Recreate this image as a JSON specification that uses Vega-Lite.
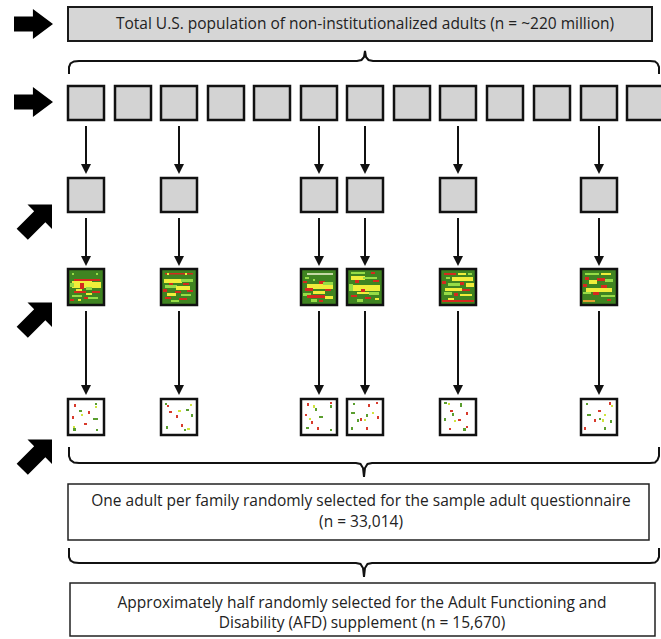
{
"$schema":"https://vega.github.io/schema/vega-lite/v6.json",
"width":661,"height":639,"autosize":"none","padding":0,
"config":{"view":{"stroke":null},"background":"white"},
"datasets":{
"boxes":[
{"g":"top","x":68,"x2":652,"y":7,"y2":41},
{"g":"gray","x":68,"x2":104,"y":86,"y2":120},{"g":"gray","x":115,"x2":151,"y":86,"y2":120},{"g":"gray","x":161,"x2":197,"y":86,"y2":120},{"g":"gray","x":208,"x2":244,"y":86,"y2":120},{"g":"gray","x":254,"x2":290,"y":86,"y2":120},{"g":"gray","x":301,"x2":337,"y":86,"y2":120},{"g":"gray","x":347,"x2":383,"y":86,"y2":120},{"g":"gray","x":394,"x2":430,"y":86,"y2":120},{"g":"gray","x":440,"x2":476,"y":86,"y2":120},{"g":"gray","x":487,"x2":523,"y":86,"y2":120},{"g":"gray","x":534,"x2":570,"y":86,"y2":120},{"g":"gray","x":581,"x2":617,"y":86,"y2":120},{"g":"gray","x":627,"x2":663,"y":86,"y2":120},
{"g":"gray","x":68,"x2":104,"y":178,"y2":212},{"g":"gray","x":161,"x2":197,"y":178,"y2":212},{"g":"gray","x":301,"x2":337,"y":178,"y2":212},{"g":"gray","x":347,"x2":383,"y":178,"y2":212},{"g":"gray","x":440,"x2":476,"y":178,"y2":212},{"g":"gray","x":581,"x2":617,"y":178,"y2":212},
{"g":"heat","x":68,"x2":104,"y":269,"y2":305},{"g":"heat","x":161,"x2":197,"y":269,"y2":305},{"g":"heat","x":301,"x2":337,"y":269,"y2":305},{"g":"heat","x":347,"x2":383,"y":269,"y2":305},{"g":"heat","x":440,"x2":476,"y":269,"y2":305},{"g":"heat","x":581,"x2":617,"y":269,"y2":305},
{"g":"white","x":68,"x2":104,"y":399,"y2":435},{"g":"white","x":161,"x2":197,"y":399,"y2":435},{"g":"white","x":301,"x2":337,"y":399,"y2":435},{"g":"white","x":347,"x2":383,"y":399,"y2":435},{"g":"white","x":440,"x2":476,"y":399,"y2":435},{"g":"white","x":581,"x2":617,"y":399,"y2":435},
{"g":"text","x":68,"x2":649,"y":484,"y2":540},{"g":"text","x":70,"x2":655,"y":583,"y2":636}
],
"cells":[
{"x":72,"x2":74,"y":273,"y2":275,"k":"G"},{"x":96,"x2":98,"y":273,"y2":275,"k":"G"},{"x":74,"x2":100,"y":279,"y2":281,"k":"R"},{"x":72,"x2":92,"y":281,"y2":288,"k":"Y"},{"x":92,"x2":101,"y":282,"y2":288,"k":"Y"},{"x":70,"x2":74,"y":283,"y2":287,"k":"G"},{"x":80,"x2":84,"y":283,"y2":289,"k":"R"},{"x":86,"x2":92,"y":287,"y2":290,"k":"G"},{"x":74,"x2":86,"y":291,"y2":293,"k":"R"},{"x":92,"x2":100,"y":291,"y2":293,"k":"R"},{"x":76,"x2":82,"y":289,"y2":291,"k":"Y"},{"x":86,"x2":92,"y":293,"y2":295,"k":"Y"},{"x":72,"x2":82,"y":295,"y2":297,"k":"G"},{"x":88,"x2":98,"y":297,"y2":299,"k":"G"},{"x":70,"x2":74,"y":299,"y2":301,"k":"R"},{"x":84,"x2":88,"y":297,"y2":299,"k":"R"},{"x":78,"x2":81,"y":299,"y2":301,"k":"Y"},
{"x":165,"x2":193,"y":273,"y2":274.5,"k":"R"},{"x":167,"x2":169,"y":273,"y2":275,"k":"Y"},{"x":185,"x2":187,"y":273,"y2":275,"k":"Y"},{"x":164,"x2":182,"y":279,"y2":283,"k":"Y"},{"x":181,"x2":193,"y":279,"y2":282,"k":"G"},{"x":169,"x2":173,"y":283,"y2":285,"k":"R"},{"x":183,"x2":189,"y":283,"y2":285,"k":"R"},{"x":165,"x2":177,"y":285,"y2":288,"k":"G"},{"x":176,"x2":190,"y":286,"y2":290,"k":"Y"},{"x":163,"x2":167,"y":289,"y2":292,"k":"R"},{"x":175,"x2":181,"y":291,"y2":293,"k":"R"},{"x":187,"x2":193,"y":290,"y2":292,"k":"R"},{"x":167,"x2":176,"y":293,"y2":296,"k":"Y"},{"x":181,"x2":191,"y":294,"y2":296,"k":"G"},{"x":165,"x2":171,"y":297,"y2":299,"k":"R"},{"x":179,"x2":187,"y":298,"y2":300,"k":"R"},{"x":171,"x2":179,"y":300,"y2":302,"k":"G"},
{"x":307,"x2":333,"y":273,"y2":275,"k":"L"},{"x":305,"x2":309,"y":277,"y2":279,"k":"G"},{"x":313,"x2":315,"y":279,"y2":281,"k":"G"},{"x":303,"x2":307,"y":281,"y2":283,"k":"R"},{"x":319,"x2":325,"y":281,"y2":284,"k":"R"},{"x":307,"x2":333,"y":284,"y2":289,"k":"Y"},{"x":323,"x2":333,"y":282,"y2":285,"k":"G"},{"x":305,"x2":313,"y":288,"y2":291,"k":"R"},{"x":325,"x2":331,"y":289,"y2":291,"k":"R"},{"x":313,"x2":325,"y":291,"y2":294,"k":"Y"},{"x":303,"x2":311,"y":293,"y2":296,"k":"G"},{"x":307,"x2":325,"y":295,"y2":298,"k":"R"},{"x":325,"x2":333,"y":296,"y2":299,"k":"Y"},{"x":311,"x2":317,"y":299,"y2":302,"k":"G"},{"x":319,"x2":323,"y":300,"y2":302,"k":"R"},
{"x":351,"x2":365,"y":272,"y2":274,"k":"G"},{"x":371,"x2":375,"y":272,"y2":274,"k":"R"},{"x":351,"x2":365,"y":276,"y2":280,"k":"Y"},{"x":363,"x2":377,"y":277,"y2":279,"k":"G"},{"x":355,"x2":359,"y":280,"y2":283,"k":"R"},{"x":373,"x2":379,"y":280,"y2":282,"k":"R"},{"x":352,"x2":380,"y":285,"y2":291,"k":"Y"},{"x":349,"x2":353,"y":284,"y2":291,"k":"G"},{"x":361,"x2":365,"y":289,"y2":292,"k":"R"},{"x":357,"x2":369,"y":292,"y2":294,"k":"Y"},{"x":369,"x2":379,"y":292,"y2":295,"k":"G"},{"x":351,"x2":357,"y":295,"y2":297,"k":"R"},{"x":365,"x2":371,"y":297,"y2":299,"k":"R"},{"x":357,"x2":363,"y":299,"y2":302,"k":"G"},{"x":375,"x2":379,"y":298,"y2":300,"k":"Y"},
{"x":444,"x2":456,"y":273,"y2":275,"k":"R"},{"x":458,"x2":466,"y":273,"y2":275,"k":"Y"},{"x":468,"x2":472,"y":273,"y2":275,"k":"G"},{"x":446,"x2":450,"y":277,"y2":279,"k":"G"},{"x":452,"x2":473,"y":277,"y2":281,"k":"Y"},{"x":442,"x2":446,"y":281,"y2":284,"k":"R"},{"x":460,"x2":464,"y":282,"y2":285,"k":"R"},{"x":448,"x2":460,"y":283,"y2":286,"k":"G"},{"x":466,"x2":474,"y":283,"y2":287,"k":"Y"},{"x":445,"x2":462,"y":288,"y2":291,"k":"Y"},{"x":462,"x2":470,"y":289,"y2":291,"k":"R"},{"x":444,"x2":452,"y":292,"y2":295,"k":"G"},{"x":454,"x2":458,"y":293,"y2":296,"k":"R"},{"x":460,"x2":472,"y":294,"y2":296,"k":"Y"},{"x":442,"x2":474,"y":300,"y2":302,"k":"R"},{"x":448,"x2":454,"y":298,"y2":300,"k":"Y"},
{"x":585,"x2":599,"y":273,"y2":275,"k":"G"},{"x":601,"x2":611,"y":273,"y2":275,"k":"Y"},{"x":585,"x2":589,"y":277,"y2":280,"k":"R"},{"x":597,"x2":605,"y":278,"y2":281,"k":"R"},{"x":589,"x2":597,"y":280,"y2":284,"k":"Y"},{"x":605,"x2":613,"y":279,"y2":282,"k":"G"},{"x":583,"x2":587,"y":284,"y2":287,"k":"R"},{"x":601,"x2":607,"y":285,"y2":288,"k":"R"},{"x":586,"x2":612,"y":288,"y2":292,"k":"Y"},{"x":583,"x2":591,"y":292,"y2":294,"k":"G"},{"x":593,"x2":599,"y":292,"y2":295,"k":"R"},{"x":601,"x2":615,"y":295,"y2":297,"k":"G"},{"x":583,"x2":595,"y":300,"y2":302,"k":"O"},{"x":607,"x2":611,"y":299,"y2":301,"k":"R"},
{"x":74,"x2":76,"y":404,"y2":407,"k":"r"},{"x":95,"x2":97,"y":403,"y2":405,"k":"g"},{"x":95,"x2":97,"y":406,"y2":408,"k":"y"},{"x":79,"x2":82,"y":410,"y2":412,"k":"g"},{"x":81,"x2":83,"y":414,"y2":416,"k":"y"},{"x":88,"x2":90,"y":411,"y2":414,"k":"r"},{"x":72,"x2":74,"y":416,"y2":419,"k":"r"},{"x":93,"x2":98,"y":418,"y2":420,"k":"g"},{"x":84,"x2":87,"y":423,"y2":425,"k":"r"},{"x":73,"x2":76,"y":428,"y2":431,"k":"g"},{"x":73,"x2":75,"y":426,"y2":428,"k":"y"},{"x":96,"x2":98,"y":429,"y2":431,"k":"g"},
{"x":165,"x2":167,"y":403,"y2":405,"k":"g"},{"x":167,"x2":169,"y":405,"y2":407,"k":"r"},{"x":190,"x2":192,"y":404,"y2":406,"k":"y"},{"x":169,"x2":172,"y":411,"y2":413,"k":"r"},{"x":178,"x2":181,"y":410,"y2":412,"k":"y"},{"x":186,"x2":189,"y":409,"y2":411,"k":"g"},{"x":176,"x2":178,"y":415,"y2":418,"k":"r"},{"x":191,"x2":193,"y":414,"y2":417,"k":"g"},{"x":166,"x2":168,"y":426,"y2":429,"k":"g"},{"x":181,"x2":183,"y":424,"y2":427,"k":"r"},{"x":187,"x2":190,"y":428,"y2":430,"k":"y"},{"x":184,"x2":186,"y":429,"y2":431,"k":"g"},
{"x":307,"x2":309,"y":403,"y2":406,"k":"r"},{"x":313,"x2":315,"y":405,"y2":408,"k":"y"},{"x":315,"x2":317,"y":408,"y2":411,"k":"g"},{"x":330,"x2":332,"y":402,"y2":404,"k":"r"},{"x":330,"x2":332,"y":405,"y2":408,"k":"g"},{"x":305,"x2":307,"y":414,"y2":416,"k":"r"},{"x":319,"x2":323,"y":416,"y2":418,"k":"g"},{"x":311,"x2":313,"y":421,"y2":424,"k":"r"},{"x":309,"x2":311,"y":418,"y2":420,"k":"y"},{"x":306,"x2":309,"y":427,"y2":429,"k":"g"},{"x":317,"x2":319,"y":427,"y2":430,"k":"r"},{"x":330,"x2":332,"y":429,"y2":431,"k":"g"},
{"x":353,"x2":355,"y":403,"y2":405,"k":"g"},{"x":368,"x2":370,"y":404,"y2":407,"k":"r"},{"x":376,"x2":378,"y":402,"y2":404,"k":"r"},{"x":351,"x2":355,"y":412,"y2":414,"k":"g"},{"x":372,"x2":374,"y":412,"y2":414,"k":"y"},{"x":366,"x2":368,"y":414,"y2":417,"k":"g"},{"x":360,"x2":362,"y":418,"y2":421,"k":"r"},{"x":357,"x2":359,"y":419,"y2":422,"k":"g"},{"x":364,"x2":366,"y":419,"y2":421,"k":"y"},{"x":377,"x2":379,"y":416,"y2":419,"k":"r"},{"x":351,"x2":353,"y":427,"y2":430,"k":"g"},{"x":366,"x2":368,"y":427,"y2":430,"k":"r"},
{"x":444,"x2":447,"y":402,"y2":404,"k":"g"},{"x":448,"x2":450,"y":403,"y2":405,"k":"y"},{"x":460,"x2":462,"y":403,"y2":407,"k":"g"},{"x":450,"x2":453,"y":410,"y2":412,"k":"r"},{"x":452,"x2":454,"y":413,"y2":416,"k":"g"},{"x":466,"x2":468,"y":412,"y2":415,"k":"r"},{"x":444,"x2":446,"y":418,"y2":421,"k":"g"},{"x":458,"x2":461,"y":419,"y2":421,"k":"r"},{"x":454,"x2":456,"y":420,"y2":422,"k":"y"},{"x":449,"x2":451,"y":428,"y2":430,"k":"r"},{"x":463,"x2":466,"y":428,"y2":431,"k":"g"},{"x":466,"x2":468,"y":426,"y2":428,"k":"r"},
{"x":586,"x2":588,"y":403,"y2":405,"k":"g"},{"x":609,"x2":611,"y":402,"y2":405,"k":"r"},{"x":611,"x2":613,"y":405,"y2":407,"k":"y"},{"x":598,"x2":601,"y":410,"y2":412,"k":"r"},{"x":587,"x2":591,"y":414,"y2":416,"k":"g"},{"x":604,"x2":606,"y":414,"y2":416,"k":"y"},{"x":594,"x2":596,"y":419,"y2":422,"k":"r"},{"x":599,"x2":601,"y":418,"y2":420,"k":"g"},{"x":602,"x2":604,"y":419,"y2":422,"k":"y"},{"x":610,"x2":612,"y":420,"y2":423,"k":"g"},{"x":584,"x2":586,"y":427,"y2":430,"k":"r"},{"x":604,"x2":606,"y":427,"y2":430,"k":"g"}
],
"stems":[
{"x":86,"y":126,"y2":166,"tip":169},{"x":179,"y":126,"y2":166,"tip":169},{"x":319,"y":126,"y2":166,"tip":169},{"x":365,"y":126,"y2":166,"tip":169},{"x":458,"y":126,"y2":166,"tip":169},{"x":599,"y":126,"y2":166,"tip":169},
{"x":86,"y":218,"y2":258,"tip":261},{"x":179,"y":218,"y2":258,"tip":261},{"x":319,"y":218,"y2":258,"tip":261},{"x":365,"y":218,"y2":258,"tip":261},{"x":458,"y":218,"y2":258,"tip":261},{"x":599,"y":218,"y2":258,"tip":261},
{"x":86,"y":311,"y2":387,"tip":390},{"x":179,"y":311,"y2":387,"tip":390},{"x":319,"y":311,"y2":387,"tip":390},{"x":365,"y":311,"y2":387,"tip":390},{"x":458,"y":311,"y2":387,"tip":390},{"x":599,"y":311,"y2":387,"tip":390}
],
"braces":[
{"b":1,"o":1,"x":69,"y":74},{"b":1,"o":2,"x":69,"y":67},{"b":1,"o":3,"x":70.5,"y":63.5},{"b":1,"o":4,"x":74,"y":61.5},{"b":1,"o":5,"x":79,"y":61},{"b":1,"o":6,"x":357,"y":61},{"b":1,"o":7,"x":361.5,"y":60},{"b":1,"o":8,"x":364,"y":57},{"b":1,"o":9,"x":365,"y":51},{"b":1,"o":10,"x":366,"y":57},{"b":1,"o":11,"x":368.5,"y":60},{"b":1,"o":12,"x":373,"y":61},{"b":1,"o":13,"x":650,"y":61},{"b":1,"o":14,"x":655,"y":61.5},{"b":1,"o":15,"x":657.5,"y":63.5},{"b":1,"o":16,"x":659,"y":67},{"b":1,"o":17,"x":659,"y":74},
{"b":2,"o":1,"x":69,"y":447},{"b":2,"o":2,"x":69,"y":456},{"b":2,"o":3,"x":70.5,"y":460},{"b":2,"o":4,"x":74,"y":462.5},{"b":2,"o":5,"x":79,"y":463},{"b":2,"o":6,"x":356,"y":463},{"b":2,"o":7,"x":360.5,"y":464},{"b":2,"o":8,"x":363,"y":468},{"b":2,"o":9,"x":364,"y":477},{"b":2,"o":10,"x":365,"y":468},{"b":2,"o":11,"x":367.5,"y":464},{"b":2,"o":12,"x":372,"y":463},{"b":2,"o":13,"x":650,"y":463},{"b":2,"o":14,"x":655,"y":462.5},{"b":2,"o":15,"x":657.5,"y":460},{"b":2,"o":16,"x":659,"y":456},{"b":2,"o":17,"x":659,"y":447},
{"b":3,"o":1,"x":69,"y":548},{"b":3,"o":2,"x":69,"y":557},{"b":3,"o":3,"x":70.5,"y":560.5},{"b":3,"o":4,"x":74,"y":562.5},{"b":3,"o":5,"x":79,"y":563},{"b":3,"o":6,"x":356,"y":563},{"b":3,"o":7,"x":360.5,"y":564},{"b":3,"o":8,"x":363,"y":568},{"b":3,"o":9,"x":364,"y":577},{"b":3,"o":10,"x":365,"y":568},{"b":3,"o":11,"x":367.5,"y":564},{"b":3,"o":12,"x":372,"y":563},{"b":3,"o":13,"x":650,"y":563},{"b":3,"o":14,"x":655,"y":562.5},{"b":3,"o":15,"x":657.5,"y":560.5},{"b":3,"o":16,"x":659,"y":557},{"b":3,"o":17,"x":659,"y":548}
],
"pointers":[
{"d":"right","x":33.5,"y":24},{"d":"right","x":33.5,"y":102},
{"d":"diag","x":34.5,"y":222},{"d":"diag","x":34.5,"y":320},{"d":"diag","x":34.5,"y":457}
],
"labels":[
{"t":"Total U.S. population of non-institutionalized adults (n = ~220 million)","x":365,"y":24},
{"t":"One adult per family randomly selected for the sample adult questionnaire","x":361,"y":501},
{"t":"(n = 33,014)","x":361,"y":522},
{"t":"Approximately half randomly selected for the Adult Functioning and","x":362,"y":603},
{"t":"Disability (AFD) supplement (n = 15,670)","x":362,"y":623}
]
},
"encoding":{
"x":{"field":"x","type":"quantitative","scale":{"domain":[0,661],"nice":false,"zero":false},"axis":null},
"y":{"field":"y","type":"quantitative","scale":{"domain":[0,639],"nice":false,"zero":false,"reverse":true},"axis":null}
},
"layer":[
{"data":{"name":"boxes"},"transform":[{"filter":"datum.g==='top'"}],"mark":{"type":"rect","fill":"#d6d6d6","stroke":"#1a1a1a","strokeWidth":2},"encoding":{"x2":{"field":"x2"},"y2":{"field":"y2"}}},
{"data":{"name":"boxes"},"transform":[{"filter":"datum.g==='gray'"}],"mark":{"type":"rect","fill":"#d3d3d3","stroke":"#111","strokeWidth":2.5},"encoding":{"x2":{"field":"x2"},"y2":{"field":"y2"}}},
{"data":{"name":"boxes"},"transform":[{"filter":"datum.g==='heat'"}],"mark":{"type":"rect","fill":"#3f8421","stroke":"#111","strokeWidth":2.5},"encoding":{"x2":{"field":"x2"},"y2":{"field":"y2"}}},
{"data":{"name":"boxes"},"transform":[{"filter":"datum.g==='white'"}],"mark":{"type":"rect","fill":"#ffffff","stroke":"#111","strokeWidth":2.5},"encoding":{"x2":{"field":"x2"},"y2":{"field":"y2"}}},
{"data":{"name":"boxes"},"transform":[{"filter":"datum.g==='text'"}],"mark":{"type":"rect","fill":"#ffffff","stroke":"#222","strokeWidth":1.5},"encoding":{"x2":{"field":"x2"},"y2":{"field":"y2"}}},
{"data":{"name":"cells"},"mark":{"type":"rect"},"encoding":{"x2":{"field":"x2"},"y2":{"field":"y2"},"color":{"field":"k","type":"nominal","legend":null,"scale":{"domain":["R","Y","G","L","O","r","g","y"],"range":["#d42a1e","#f0ee3a","#96dc46","#c4d8a4","#e0a030","#d83a2c","#5a9e2e","#cfe43c"]}}}},
{"data":{"name":"stems"},"mark":{"type":"rule","color":"#111","strokeWidth":2},"encoding":{"y2":{"field":"y2"}}},
{"data":{"name":"stems"},"mark":{"type":"point","shape":"M-1,-1L1,-1L0,1Z","size":100,"filled":true,"color":"#111","opacity":1},"encoding":{"y":{"field":"tip","type":"quantitative"}}},
{"data":{"name":"braces"},"mark":{"type":"line","color":"#111","strokeWidth":2},"encoding":{"detail":{"field":"b"},"order":{"field":"o"}}},
{"data":{"name":"pointers"},"transform":[{"filter":"datum.d==='right'"}],"mark":{"type":"point","shape":"M-1,-0.38L-0.03,-0.38L-0.03,-0.77L1,0L-0.03,0.77L-0.03,0.38L-1,0.38Z","size":1521,"filled":true,"color":"#000","opacity":1,"strokeWidth":0}},
{"data":{"name":"pointers"},"transform":[{"filter":"datum.d==='diag'"}],"mark":{"type":"point","shape":"M-0.4,-1L1,-1L1,0.4L0.62,0.02L-0.38,1.02L-1.02,0.38L-0.02,-0.62Z","size":1225,"filled":true,"color":"#000","opacity":1,"strokeWidth":0}},
{"data":{"name":"labels"},"mark":{"type":"text","font":"Open Sans","fontSize":15.5,"color":"#222","align":"center","baseline":"middle"},"encoding":{"text":{"field":"t"}}}
]
}
